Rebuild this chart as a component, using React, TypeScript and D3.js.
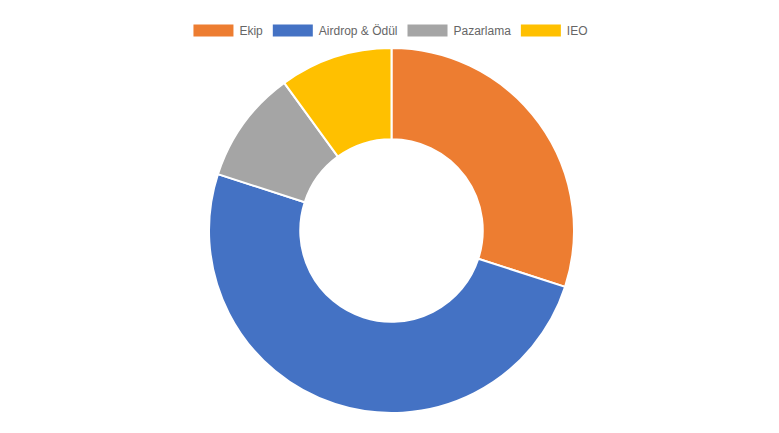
import React, { useEffect, useRef } from "react";
import * as d3 from "d3";

const labels: string[] = ["Ekip", "Airdrop & Ödül", "Pazarlama", "IEO"];
const values: number[] = [30, 50, 10, 10];
const colors: string[] = ["#ED7D31", "#4472C4", "#A5A5A5", "#FFC000"];

const WIDTH = 779;
const HEIGHT = 433;

const App: React.FC = () => {
  const svgRef = useRef<SVGSVGElement | null>(null);

  useEffect(() => {
    if (!svgRef.current) return;
    const svg = d3.select(svgRef.current);
    svg.selectAll("*").remove();

    const font = "12px 'Liberation Sans', Arial, sans-serif";
    const ctx = document.createElement("canvas").getContext("2d")!;
    ctx.font = font;

    // legend (chart.js-like: 40x12 boxes, text after 46px, 10px padding)
    const boxW = 40;
    const boxH = 12;
    const itemWidths = labels.map((l) => boxW + 6 + ctx.measureText(l).width);
    const total = d3.sum(itemWidths) + 10 * (labels.length - 1);
    let x = WIDTH / 2 - total / 2 + 1;
    const legendY = 24.5;
    const legend = svg.append("g");
    labels.forEach((l, i) => {
      legend
        .append("rect")
        .attr("x", x)
        .attr("y", legendY)
        .attr("width", boxW)
        .attr("height", boxH)
        .attr("fill", colors[i]);
      legend
        .append("text")
        .attr("x", x + boxW + 6)
        .attr("y", legendY + boxH / 2)
        .attr("dominant-baseline", "central")
        .style("font", font)
        .attr("fill", "#666")
        .text(l);
      x += itemWidths[i] + 10;
    });

    const cx = 391.5;
    const cy = 230.5;
    const outer = 182.5;
    const inner = outer * 0.5;

    const pie = d3
      .pie<number>()
      .sort(null)
      .value((d) => d);
    const arc = d3
      .arc<d3.PieArcDatum<number>>()
      .innerRadius(inner)
      .outerRadius(outer);

    svg
      .append("g")
      .attr("transform", `translate(${cx}, ${cy})`)
      .selectAll("path")
      .data(pie(values))
      .enter()
      .append("path")
      .attr("d", arc)
      .attr("fill", (_, i) => colors[i])
      .attr("stroke", "#fff")
      .attr("stroke-width", 2);
  }, []);

  return (
    <div style={{ position: "fixed", left: 0, top: 0, width: WIDTH, height: HEIGHT, background: "#fff" }}>
      <svg ref={svgRef} width={WIDTH} height={HEIGHT} style={{ display: "block" }}></svg>
    </div>
  );
};

export default App;
